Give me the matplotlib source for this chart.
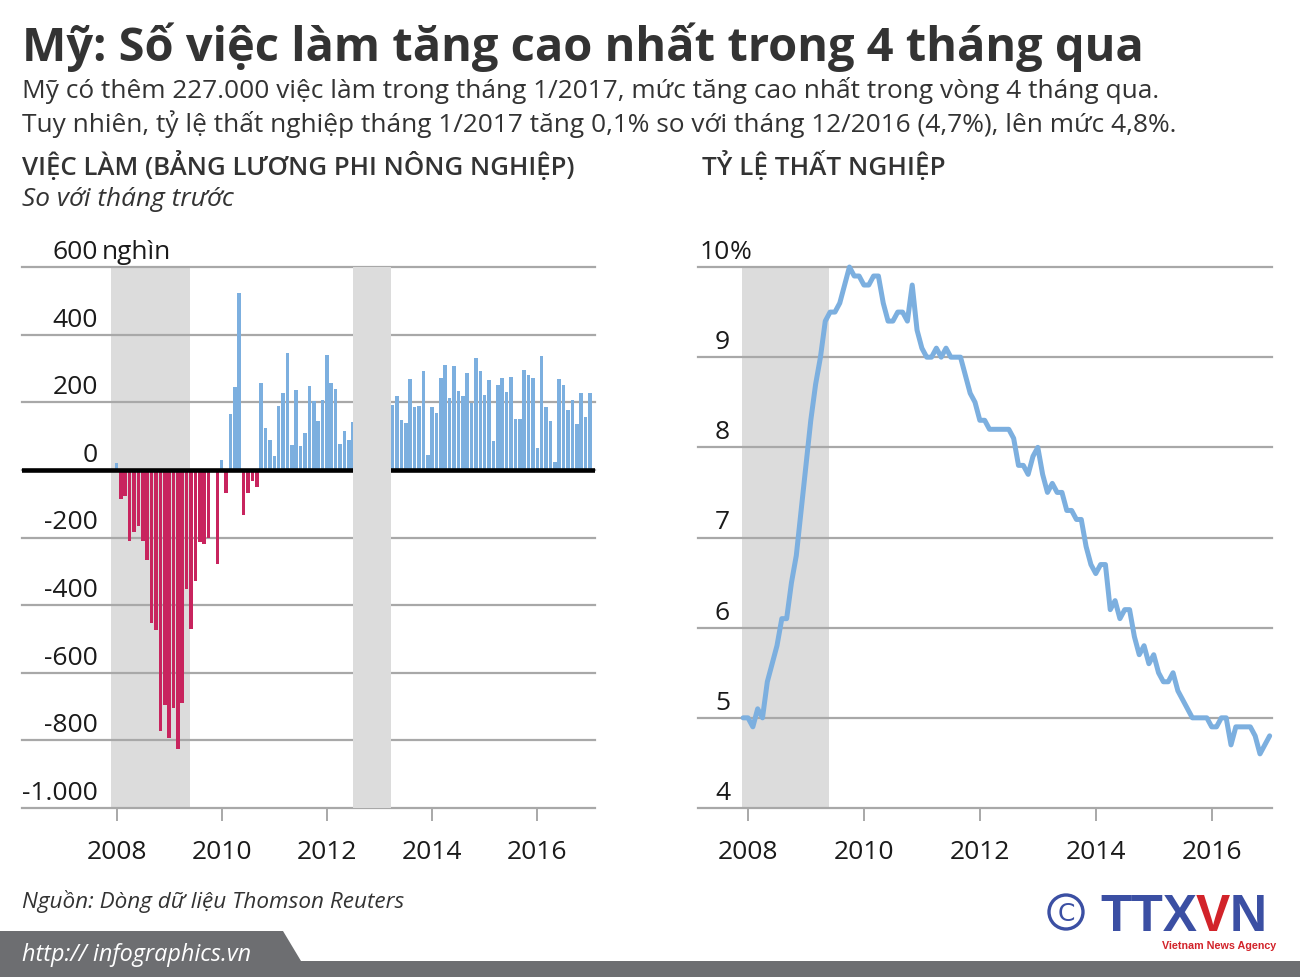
import numpy as np
import matplotlib.pyplot as plt
import matplotlib.transforms as mtransforms
from matplotlib.patches import Polygon, Circle

plt.rcParams['font.family'] = ['Open Sans', 'DejaVu Sans']

# --- data ---
# nonfarm payrolls, change vs previous month (thousand), Jan 2008 .. Jan 2017
jobs_2008 = [20, -86, -78, -210, -185, -165, -209, -266, -453, -473, -771, -696]
jobs_2009 = [-793, -704, -825, -688, -353, -471, -330, -212, -219, -200, 0, -279]
jobs_2010 = [28, -68, 165, 244, 524, -133, -69, -34, -52, 257, 123, 87]
jobs_2011 = [42, 190, 226, 346, 74, 236, 70, 108, 247, 203, 146, 207]
jobs_2012 = [340, 257, 240, 76, 115, 87, 143, np.nan, np.nan, np.nan, np.nan, np.nan]
jobs_2013 = [np.nan, np.nan, np.nan, 191, 218, 147, 140, 269, 185, 188, 291, 44]
jobs_2014 = [187, 167, 272, 310, 212, 307, 233, 218, 286, 199, 331, 292]
jobs_2015 = [221, 265, 84, 250, 273, 229, 276, 150, 149, 295, 280, 271]
jobs_2016 = [64, 336, 185, 144, 23, 270, 252, 176, 208, 135, 227, 156]
jobs_2017 = [227]

# unemployment rate (%), Dec 2007 .. Jan 2017
unemp_2007 = [5.0]
unemp_2008 = [5.0, 4.9, 5.1, 5.0, 5.4, 5.6, 5.8, 6.1, 6.1, 6.5, 6.8, 7.3]
unemp_2009 = [7.8, 8.3, 8.7, 9.0, 9.4, 9.5, 9.5, 9.6, 9.8, 10.0, 9.9, 9.9]
unemp_2010 = [9.8, 9.8, 9.9, 9.9, 9.6, 9.4, 9.4, 9.5, 9.5, 9.4, 9.8, 9.3]
unemp_2011 = [9.1, 9.0, 9.0, 9.1, 9.0, 9.1, 9.0, 9.0, 9.0, 8.8, 8.6, 8.5]
unemp_2012 = [8.3, 8.3, 8.2, 8.2, 8.2, 8.2, 8.2, 8.1, 7.8, 7.8, 7.7, 7.9]
unemp_2013 = [8.0, 7.7, 7.5, 7.6, 7.5, 7.5, 7.3, 7.3, 7.2, 7.2, 6.9, 6.7]
unemp_2014 = [6.6, 6.7, 6.7, 6.2, 6.3, 6.1, 6.2, 6.2, 5.9, 5.7, 5.8, 5.6]
unemp_2015 = [5.7, 5.5, 5.4, 5.4, 5.5, 5.3, 5.2, 5.1, 5.0, 5.0, 5.0, 5.0]
unemp_2016 = [4.9, 4.9, 5.0, 5.0, 4.7, 4.9, 4.9, 4.9, 4.9, 4.8, 4.6, 4.7]
unemp_2017 = [4.8]

jobs_ticks = [600, 400, 200, 0, -200, -400, -600, -800, -1000]
unemp_ticks = [10, 9, 8, 7, 6, 5, 4]
year_ticks = [2008, 2010, 2012, 2014, 2016]

rec_start, rec_end = 2007.9, 2009.4      # recession shading
gap_start, gap_end = 2012.5, 2013.22     # gap in payroll series

title = 'Mỹ: Số việc làm tăng cao nhất trong 4 tháng qua'
sub1 = 'Mỹ có thêm 227.000 việc làm trong tháng 1/2017, mức tăng cao nhất trong vòng 4 tháng qua.'
sub2 = 'Tuy nhiên, tỷ lệ thất nghiệp tháng 1/2017 tăng 0,1% so với tháng 12/2016 (4,7%), lên mức 4,8%.'
head1 = 'VIỆC LÀM (BẢNG LƯƠNG PHI NÔNG NGHIỆP)'
head1b = 'So với tháng trước'
head2 = 'TỶ LỆ THẤT NGHIỆP'
source = 'Nguồn: Dòng dữ liệu Thomson Reuters'
url = 'http:// infographics.vn'

jobs = np.array(jobs_2008 + jobs_2009 + jobs_2010 + jobs_2011 + jobs_2012 +
                jobs_2013 + jobs_2014 + jobs_2015 + jobs_2016 + jobs_2017, dtype=float)
unemp = np.array(unemp_2007 + unemp_2008 + unemp_2009 + unemp_2010 + unemp_2011 +
                 unemp_2012 + unemp_2013 + unemp_2014 + unemp_2015 + unemp_2016 + unemp_2017)
x_jobs = 2008 + np.arange(len(jobs)) / 12
x_unemp = 2008 + (np.arange(len(unemp)) - 1) / 12

txt_c = '#333333'
num_c = '#1a1a1a'
grid_c = '#a8a8a8'
band_c = '#dcdcdc'
blue = '#7cafdf'
red = '#c8245e'
logo_blue = '#3b4fa3'
logo_red = '#d2232a'

W, H = 1300, 978
fig = plt.figure(figsize=(W / 100, H / 100), dpi=100)
renderer = fig.canvas.get_renderer()

deco = fig.add_axes([0, 0, 1, 1])
deco.set_xlim(0, W)
deco.set_ylim(H, 0)
deco.axis('off')


def fit(t, width):
    w = t.get_window_extent(renderer).width
    t.set_fontsize(t.get_fontsize() * width / w)
    return t


fit(deco.text(22, 61, title, fontsize=36, fontweight='bold', color=txt_c, va='baseline'), 1123)
fit(deco.text(22, 98, sub1, fontsize=18, color=txt_c, va='baseline'), 1135)
fit(deco.text(22, 132, sub2, fontsize=18, color=txt_c, va='baseline'), 1154)
fit(deco.text(22, 175, head1, fontsize=18, fontweight='semibold', color=txt_c, va='baseline'), 556)
fit(deco.text(22, 206, head1b, fontsize=18, style='italic', color=txt_c, va='baseline'), 212)
fit(deco.text(702, 175, head2, fontsize=18, fontweight='semibold', color=txt_c, va='baseline'), 244)
fit(deco.text(22, 908, source, fontsize=16, style='italic', color=txt_c, va='baseline'), 382)

# footer bar
deco.add_patch(Polygon([(0, 932), (283, 932), (301, 962), (W, 962), (W, H), (0, H)],
                       closed=True, color='#6d6e71', lw=0))
fit(deco.text(22, 961, url, fontsize=16, style='italic', color='white', va='baseline'), 230)

# logo
deco.add_patch(Circle((1066, 913), 17, fill=False, ec=logo_blue, lw=2.4))
deco.text(1066, 914, 'C', ha='center', va='center', color=logo_blue, fontsize=18,
          family='DejaVu Sans')
xpos = 1100
for s, c in [('TTX', logo_blue), ('V', logo_red), ('N', logo_blue)]:
    t = deco.text(xpos, 931, s, fontsize=37, fontweight='bold', color=c,
                  family='Liberation Sans', va='baseline')
    xpos = t.get_window_extent(renderer).x1 - 1
fit(deco.text(1162, 949, 'Vietnam News Agency', fontsize=8, fontweight='bold',
              color=logo_red, family='Liberation Sans', va='baseline'), 115)

# --- left: payrolls ---
ax1 = fig.add_axes([22 / W, 1 - 809 / H, 573 / W, 541 / H])
ax1.set_xlim(2008 - 94.5 / 52.6, 2008 + 478.5 / 52.6)
ax1.set_ylim(-1000, 600)
ax1.axvspan(rec_start, rec_end, color=band_c, lw=0, zorder=0)
for v in jobs_ticks:
    ax1.axhline(v, color=grid_c, lw=1.6, zorder=1, clip_on=False)
colors = [blue if v >= 0 else red for v in np.nan_to_num(jobs)]
ax1.bar(x_jobs, jobs, width=0.82 / 12, color=colors, lw=0, zorder=2)
ax1.axhline(0, color='black', lw=3.3, zorder=3)
ax1.axvspan(gap_start, gap_end, color=band_c, lw=0, zorder=4)

tr1 = mtransforms.offset_copy(mtransforms.blended_transform_factory(ax1.transAxes, ax1.transData),
                              fig=fig, y=9, units='dots')
for v in jobs_ticks:
    lbl = f'{v:,}'.replace(',', '.')
    ax1.text((98 - 22) / 573, v, lbl, transform=tr1, ha='right', va='baseline',
             fontsize=19, color=num_c)
ax1.text((102 - 22) / 573, 600, 'nghìn', transform=tr1, ha='left', va='baseline',
         fontsize=19, color=num_c)

# --- right: unemployment ---
ax2 = fig.add_axes([698 / W, 1 - 809 / H, 574 / W, 541 / H])
ax2.set_xlim(2008 - 50 / 57.96, 2008 + 524 / 57.96)
ax2.set_ylim(4, 10)
ax2.axvspan(rec_start, rec_end, color=band_c, lw=0, zorder=0)
for v in unemp_ticks:
    ax2.axhline(v, color=grid_c, lw=1.6, zorder=1, clip_on=False)
ax2.plot(x_unemp, unemp, color=blue, lw=3.6, solid_joinstyle='round',
         solid_capstyle='round', zorder=3, clip_on=False)

tr2 = mtransforms.offset_copy(mtransforms.blended_transform_factory(ax2.transAxes, ax2.transData),
                              fig=fig, y=9, units='dots')
for v in unemp_ticks:
    ax2.text((730 - 698) / 574, v, str(v), transform=tr2, ha='right', va='baseline',
             fontsize=19, color=num_c)
ax2.text((730 - 698) / 574, 10, '%', transform=tr2, ha='left', va='baseline',
         fontsize=19, color=num_c)

for ax in (ax1, ax2):
    for sp in ax.spines.values():
        sp.set_visible(False)
    ax.patch.set_alpha(0)
    ax.set_yticks([])
    ax.set_xticks(year_ticks)
    ax.set_xticklabels([str(y) for y in year_ticks])
    ax.tick_params(axis='x', length=9, width=1.4, color=grid_c, pad=13.5,
                   labelsize=19, labelcolor=num_c)

fig.savefig('out.png', dpi=100)
